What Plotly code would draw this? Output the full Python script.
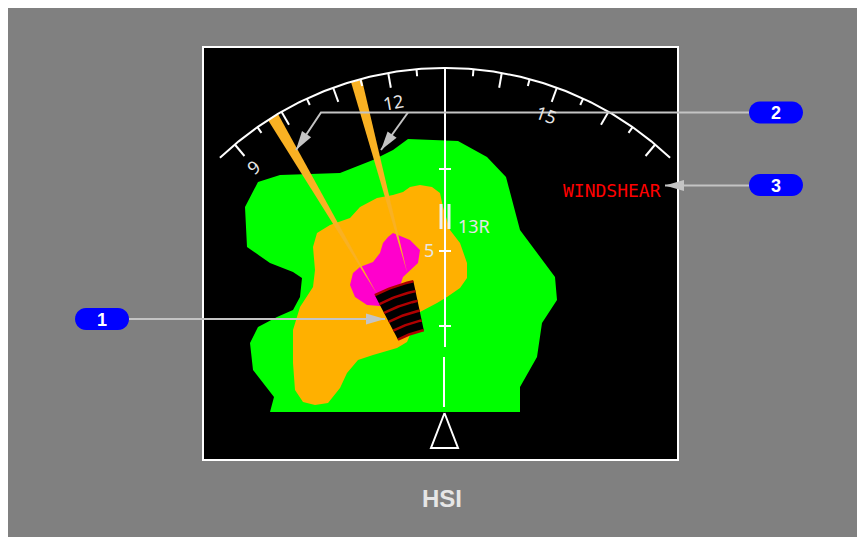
import numpy as np
import plotly.graph_objects as go

# compass rose (heading up = 130)
heading_up = 130
compass_cx, compass_cy = 445, 395
compass_r = 327
arc_half_span = 43.5
tick_headings = list(range(90, 175, 5))
label_headings = [90, 120, 150]
label_texts = ["9", "12", "15"]

# weather returns, screen px
green_x = [408, 458, 487, 506, 520, 555, 557, 542, 537, 520, 520, 270, 274, 265, 253, 250, 258, 277,
           293, 300, 302, 293, 270, 247, 245, 258, 280, 340, 373, 393]
green_y = [139, 141, 157, 177, 230, 277, 300, 323, 357, 387, 412, 412, 397, 385, 370, 343, 327, 317,
           310, 297, 278, 272, 263, 247, 207, 182, 175, 173, 160, 150]

orange_x = [403, 410, 420, 432, 440, 443, 450, 460, 467, 467, 460, 447, 437, 420, 407, 397, 373, 358,
            347, 340, 328, 315, 303, 295, 293, 293, 300, 313, 315, 313, 317, 330, 350, 360, 377, 393]
orange_y = [192, 187, 185, 187, 193, 207, 230, 243, 263, 278, 288, 297, 303, 312, 342, 348, 355, 360,
            373, 388, 403, 405, 402, 390, 363, 330, 307, 287, 270, 247, 233, 225, 218, 207, 198, 195]

magenta_x = [388, 393, 410, 420, 418, 410, 403, 401, 390, 380, 367, 355, 350, 353, 360, 373, 380, 383]
magenta_y = [237, 233, 240, 250, 263, 270, 277, 283, 295, 306, 305, 297, 285, 273, 267, 262, 253, 243]

# predictive windshear beams
beam1_x = [268, 278, 377]
beam1_y = [120, 114, 294]
beam2_x = [351, 362, 407]
beam2_y = [82, 80, 272]

# windshear icon: annular sector around the aircraft
ws_cx, ws_cy = 445, 430
ws_radii = [152, 142, 132, 122, 112, 102]
ws_angles = (-27.5, -12.0)

# localizer / runway
loc_ticks_y = [169, 251, 326]

# callouts
callout_labels = ["1", "2", "3"]
callout_centers = [(102, 319), (776, 112.5), (776, 185)]


def polar(cx, cy, r, a_deg):
    a = np.radians(a_deg)
    return cx + r * np.sin(a), cy - r * np.cos(a)


fig = go.Figure()
shapes = []
annotations = []


def poly_path(xs, ys):
    pts = " L ".join(f"{x:.1f},{y:.1f}" for x, y in zip(xs, ys))
    return f"M {pts} Z"


# display frame
shapes.append(dict(type="rect", x0=203, y0=47, x1=678, y1=460, fillcolor="black",
                   line=dict(color="white", width=2), layer="below"))

for xs, ys, col in [(green_x, green_y, "#00ff00"), (orange_x, orange_y, "#ffb000"),
                    (magenta_x, magenta_y, "#ff00cc"), (beam1_x, beam1_y, "#f9b123"),
                    (beam2_x, beam2_y, "#f9b123")]:
    fig.add_trace(go.Scatter(x=xs + [xs[0]], y=ys + [ys[0]], mode="lines", fill="toself",
                             fillcolor=col, line=dict(width=0), hoverinfo="skip"))

# windshear icon
angs = np.linspace(ws_angles[0], ws_angles[1], 20)
ox, oy = polar(ws_cx, ws_cy, ws_radii[0], angs)
ix, iy = polar(ws_cx, ws_cy, ws_radii[-1], angs[::-1])
fig.add_trace(go.Scatter(x=list(ox) + list(ix) + [ox[0]], y=list(oy) + list(iy) + [oy[0]],
                         mode="lines", fill="toself", fillcolor="black",
                         line=dict(width=0), hoverinfo="skip"))
for r in ws_radii:
    ax, ay = polar(ws_cx, ws_cy, r, angs)
    fig.add_trace(go.Scatter(x=ax, y=ay, mode="lines", line=dict(color="#b00000", width=2.5),
                             hoverinfo="skip"))

# localizer line and ticks
fig.add_trace(go.Scatter(x=[445, 445, None, 444, 444], y=[71, 347, None, 357, 407], mode="lines",
                         line=dict(color="white", width=2), hoverinfo="skip"))
tx, ty = [], []
for y in loc_ticks_y:
    tx += [439, 451, None]
    ty += [y, y, None]
fig.add_trace(go.Scatter(x=tx, y=ty, mode="lines", line=dict(color="white", width=2), hoverinfo="skip"))
fig.add_trace(go.Scatter(x=[441, 441, None, 449, 449], y=[204, 229, None, 204, 229], mode="lines",
                         line=dict(color="#eeeeee", width=3), hoverinfo="skip"))

# aircraft symbol
fig.add_trace(go.Scatter(x=[444.5, 431, 458, 444.5], y=[413, 448, 448, 413], mode="lines",
                         line=dict(color="white", width=2), hoverinfo="skip"))

# compass arc and ticks
arc_a = np.linspace(-arc_half_span, arc_half_span, 200)
axc, ayc = polar(compass_cx, compass_cy, compass_r, arc_a)
fig.add_trace(go.Scatter(x=axc, y=ayc, mode="lines", line=dict(color="white", width=2), hoverinfo="skip"))
kx, ky = [], []
for h in tick_headings:
    a = h - heading_up
    length = 15 if h % 10 == 0 else 7
    x0, y0 = polar(compass_cx, compass_cy, compass_r, a)
    x1, y1 = polar(compass_cx, compass_cy, compass_r - length, a)
    kx += [x0, x1, None]
    ky += [y0, y1, None]
fig.add_trace(go.Scatter(x=kx, y=ky, mode="lines", line=dict(color="white", width=2), hoverinfo="skip"))

for h, t in zip(label_headings, label_texts):
    a = h - heading_up
    lx, ly = polar(compass_cx, compass_cy, 298, a)
    annotations.append(dict(x=lx, y=ly, text=t, showarrow=False, textangle=a,
                            font=dict(family="Noto Sans", size=18, color="#e6e6e6")))

annotations += [
    dict(x=429, y=250, text="5", showarrow=False, font=dict(family="Noto Sans", size=18, color="#e6e6e6")),
    dict(x=456, y=226, text="13R", showarrow=False, xanchor="left",
         font=dict(family="Noto Sans", size=18, color="#e6e6e6")),
    dict(x=663, y=190, text="WINDSHEAR", showarrow=False, xanchor="right",
         font=dict(family="DejaVu Sans Mono", size=18, color="#ff0000")),
    dict(x=442, y=498, text="<b>HSI</b>", showarrow=False,
         font=dict(family="Liberation Sans", size=24, color="#e6e6e6")),
]

# callout leader lines
lead = "#c4c4c4"
leaders = [
    [(129, 319), (385, 319)],
    [(749, 112.5), (321, 112.5), (296, 150)],
    [(408, 112.5), (381, 150)],
    [(749, 185.5), (665, 185.5)],
]
for seg in leaders:
    fig.add_trace(go.Scatter(x=[p[0] for p in seg], y=[p[1] for p in seg], mode="lines",
                             line=dict(color=lead, width=2), hoverinfo="skip"))
    (bx, by), (tx_, ty_) = seg[-2], seg[-1]
    d = np.array([tx_ - bx, ty_ - by], float)
    d /= np.linalg.norm(d)
    n = np.array([-d[1], d[0]])
    base = np.array([tx_, ty_]) - 19 * d
    p1, p2 = base + 5.5 * n, base - 5.5 * n
    shapes.append(dict(type="path", path=poly_path([tx_, p1[0], p2[0]], [ty_, p1[1], p2[1]]),
                       fillcolor=lead, line=dict(width=0), layer="above"))

# callout pills
for lab, (cx, cy) in zip(callout_labels, callout_centers):
    rr = 11
    half = 16
    a1 = np.linspace(90, 270, 15)
    rx = list(cx + half + rr * np.cos(np.radians(a1 - 180)))
    ry = list(cy + rr * np.sin(np.radians(a1 - 180)))
    lx = list(cx - half + rr * np.cos(np.radians(a1)))
    ly = list(cy + rr * np.sin(np.radians(a1)))
    shapes.append(dict(type="path", path=poly_path(rx + lx, ry + ly), fillcolor="#0000ff",
                       line=dict(width=0), layer="above"))
    annotations.append(dict(x=cx, y=cy + 0.5, text=f"<b>{lab}</b>", showarrow=False,
                            font=dict(family="Liberation Sans", size=18, color="white")))

fig.update_layout(
    width=865, height=537, autosize=False,
    margin=dict(l=0, r=0, t=0, b=0),
    paper_bgcolor="#808080", plot_bgcolor="#808080",
    showlegend=False,
    xaxis=dict(range=[8, 873], visible=False, fixedrange=True),
    yaxis=dict(range=[545, 8], visible=False, fixedrange=True),
    shapes=shapes, annotations=annotations,
)

fig.write_html("out.html")
